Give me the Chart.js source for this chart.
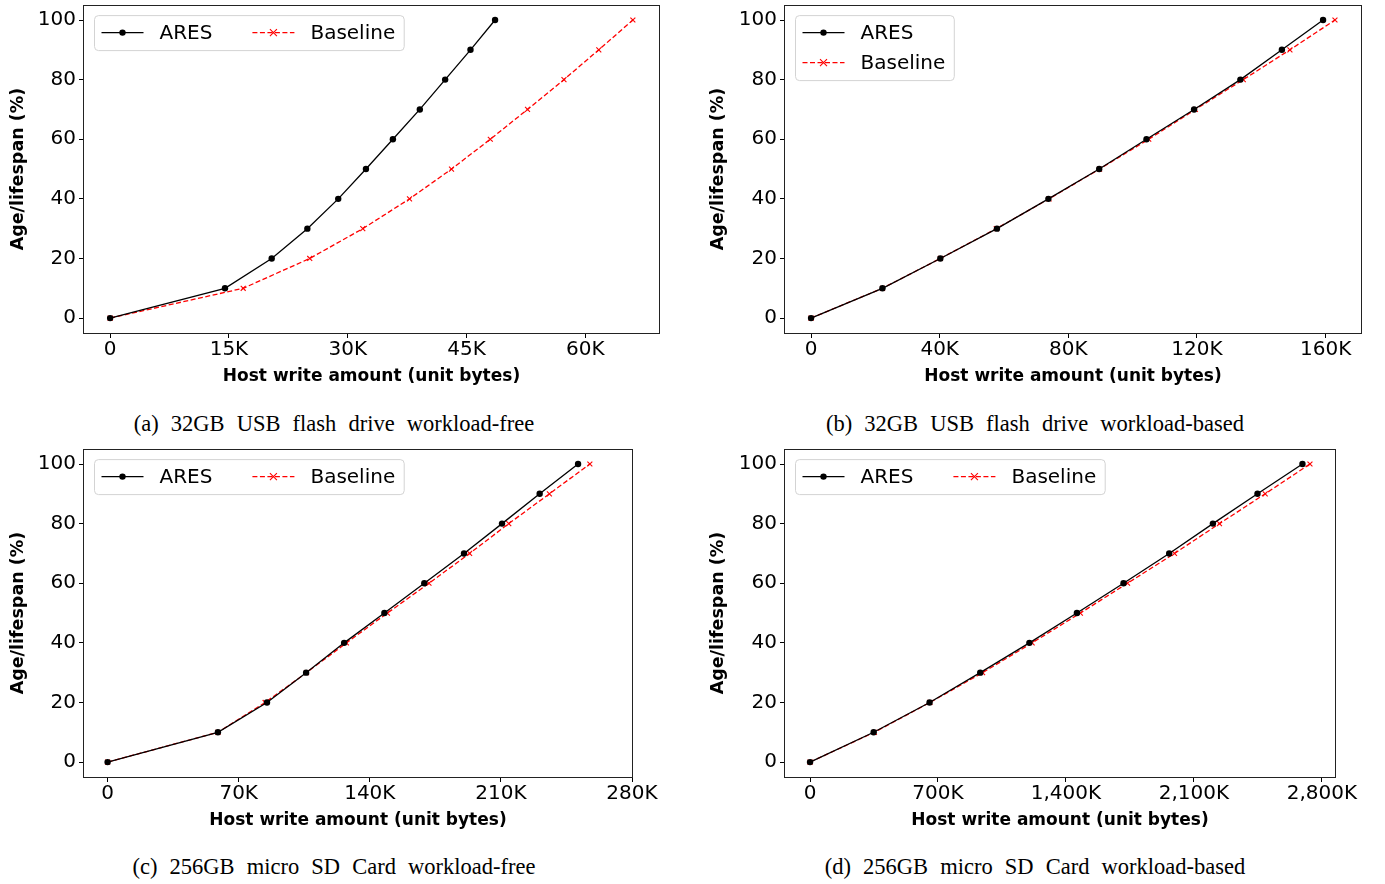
<!DOCTYPE html>
<html>
<head>
<meta charset="utf-8">
<script src="https://cdn.jsdelivr.net/npm/chart.js@4.4.1/dist/chart.umd.min.js"></script>
<style>
  html, body { margin: 0; padding: 0; background: #fff; }
  body { width: 1385px; height: 884px; position: relative; overflow: hidden; }
  canvas { position: absolute; }
  .cap {
    position: absolute; transform: translate(-50%, -50%); white-space: nowrap;
    font-family: 'Liberation Serif', 'Times New Roman', serif; font-size: 22.5px;
    word-spacing: 6.5px; color: #000;
  }
</style>
</head>
<body>
<canvas id="cA" width="692" height="400" style="left:0;top:0"></canvas>
<canvas id="cB" width="693" height="400" style="left:692px;top:0"></canvas>
<canvas id="cC" width="692" height="400" style="left:0;top:444px"></canvas>
<canvas id="cD" width="693" height="400" style="left:692px;top:444px"></canvas>
<div class="cap" style="left:334px;top:424px">(a) 32GB USB flash drive workload-free</div>
<div class="cap" style="left:1035px;top:424px">(b) 32GB USB flash drive workload-based</div>
<div class="cap" style="left:334px;top:867px">(c) 256GB micro SD Card workload-free</div>
<div class="cap" style="left:1035px;top:867px">(d) 256GB micro SD Card workload-based</div>

<script>
// y values shared by every panel (age / lifespan, %)
var ageLevels = [0, 10, 20, 30, 40, 50, 60, 70, 80, 90, 100];
var ageTicks = [0, 20, 40, 60, 80, 100];

// host write amount, in K units
var usbFreeAres = [0, 14.5, 20.4, 24.9, 28.8, 32.3, 35.7, 39.1, 42.3, 45.5, 48.6];
var usbFreeBase = [0, 16.8, 25.2, 31.9, 37.8, 43.1, 48.0, 52.7, 57.3, 61.7, 66.0];
var usbFreeTicks = [0, 15, 30, 45, 60];

var usbLoadAres = [0, 22.2, 40.2, 57.8, 73.8, 89.6, 104.3, 119.1, 133.5, 146.4, 159.2];
var usbLoadBase = [0, 22.2, 40.2, 57.6, 74.0, 89.7, 105.0, 119.5, 134.4, 148.9, 162.9];
var usbLoadTicks = [0, 40, 80, 120, 160];

var sdFreeAres = [0, 58.9, 85.1, 106.0, 126.3, 147.8, 169.1, 190.3, 210.6, 230.7, 251.2];
var sdFreeBase = [0, 58.9, 84.1, 106.2, 127.5, 149.4, 171.6, 193.3, 214.2, 235.9, 257.5];
var sdFreeTicks = [0, 70, 140, 210, 280];

var sdLoadAres = [0, 348, 654, 931, 1200, 1460, 1715, 1965, 2204, 2448, 2694];
var sdLoadBase = [0, 352, 656, 944, 1215, 1479, 1737, 1994, 2240, 2490, 2735];
var sdLoadTicks = [0, 700, 1400, 2100, 2800];

var FONT = 'DejaVu Sans';

function fmtK(v) {
  return v === 0 ? '0' : v.toLocaleString('en-US') + 'K';
}

function drawMarker(ctx, style, x, y, r) {
  ctx.beginPath();
  if (style === 'crossRot') {
    ctx.moveTo(x - r, y - r); ctx.lineTo(x + r, y + r);
    ctx.moveTo(x - r, y + r); ctx.lineTo(x + r, y - r);
    ctx.stroke();
  } else {
    ctx.arc(x, y, r, 0, Math.PI * 2);
    ctx.fill();
  }
}

// axes box (all four spines) + matplotlib-like legend inside the plot
var frameLegend = {
  id: 'frameLegend',
  afterDatasetsDraw: function (chart, args, opts) {
    var ctx = chart.ctx, a = chart.chartArea;
    ctx.save();
    ctx.strokeStyle = '#222';
    ctx.lineWidth = 1;
    ctx.strokeRect(Math.round(a.left) - 0.5, Math.round(a.top) + 0.5,
      Math.round(a.right - a.left) + 1, Math.round(a.bottom - a.top));

    var items = chart.data.datasets;
    ctx.font = '20px "' + FONT + '"';
    var handle = 42, pad = 7, textPad = 16, colGap = 40, rowH = 30;
    var widths = items.map(function (d) { return ctx.measureText(d.label).width; });
    var x0 = a.left + 10.5, y0 = a.top + 10.5, w, h;
    if (opts.columns === 1) {
      w = pad + handle + textPad + Math.max.apply(null, widths) + 9;
      h = items.length * rowH + 5;
    } else {
      w = pad;
      items.forEach(function (d, i) {
        w += handle + textPad + widths[i] + (i < items.length - 1 ? colGap : 0);
      });
      w += 9;
      h = 35;
    }
    ctx.beginPath();
    ctx.roundRect(x0, y0, w, h, 4);
    ctx.fillStyle = 'rgba(255,255,255,0.8)';
    ctx.fill();
    ctx.strokeStyle = '#d3d3d3';
    ctx.stroke();

    var cx = x0 + pad, cy = y0 + 17;
    items.forEach(function (d, i) {
      ctx.beginPath();
      ctx.setLineDash(d.borderDash || []);
      ctx.strokeStyle = d.borderColor;
      ctx.lineWidth = d.borderWidth;
      ctx.moveTo(cx, cy); ctx.lineTo(cx + handle, cy);
      ctx.stroke();
      ctx.setLineDash([]);
      ctx.fillStyle = d.pointBackgroundColor;
      ctx.strokeStyle = d.pointBorderColor;
      ctx.lineWidth = d.pointBorderWidth || 1;
      drawMarker(ctx, d.pointStyle, cx + handle / 2, cy, d.pointRadius);
      ctx.fillStyle = '#000';
      ctx.textBaseline = 'middle';
      ctx.textAlign = 'left';
      ctx.fillText(d.label, cx + handle + textPad, cy + 1);
      if (opts.columns === 1) cy += rowH;
      else cx += handle + textPad + widths[i] + colGap;
    });
    ctx.restore();
  }
};

function pts(xs) {
  return ageLevels.map(function (y, i) { return { x: xs[i], y: y }; });
}

function makePanel(id, ares, base, xMin, xMax, xTicks, box, legendCols) {
  var canvas = document.getElementById(id);
  var W = canvas.width, H = canvas.height;
  new Chart(canvas.getContext('2d'), {
    type: 'scatter',
    data: {
      datasets: [
        {
          label: 'ARES', data: pts(ares), showLine: true,
          borderColor: '#000', backgroundColor: '#000', borderWidth: 1.3,
          pointStyle: 'circle', pointRadius: 3.2, pointBackgroundColor: '#000',
          pointBorderColor: '#000', pointBorderWidth: 0
        },
        {
          label: 'Baseline', data: pts(base), showLine: true,
          borderColor: '#ff0000', backgroundColor: '#ff0000', borderWidth: 1.3,
          borderDash: [5, 2.5],
          pointStyle: 'crossRot', pointRadius: 3.5, pointBackgroundColor: '#ff0000',
          pointBorderColor: '#ff0000', pointBorderWidth: 1.1
        }
      ]
    },
    options: {
      responsive: false,
      animation: false,
      events: [],
      layout: { padding: { left: 0, top: box.top, right: W - box.right, bottom: 0 } },
      plugins: {
        legend: { display: false },
        tooltip: { enabled: false },
        frameLegend: { columns: legendCols }
      },
      scales: {
        x: {
          type: 'linear', min: xMin, max: xMax,
          afterBuildTicks: function (s) { s.ticks = xTicks.map(function (v) { return { value: v }; }); },
          afterFit: function (s) { s.height = H - box.bottom; s.paddingLeft = 0; s.paddingRight = 0; },
          ticks: { callback: fmtK, color: '#000', font: { family: FONT, size: 20 }, padding: 0, maxRotation: 0, autoSkip: false },
          grid: { drawOnChartArea: false, drawTicks: true, tickLength: 5, color: '#000' },
          border: { display: false },
          title: {
            display: true, text: 'Host write amount (unit bytes)', color: '#000',
            font: { family: FONT, size: 17, weight: 'bold' }, padding: { top: 0, bottom: 13 }
          }
        },
        y: {
          type: 'linear', min: -5, max: 105,
          afterBuildTicks: function (s) { s.ticks = ageTicks.map(function (v) { return { value: v }; }); },
          afterFit: function (s) { s.width = box.left; s.paddingTop = 0; s.paddingBottom = 0; },
          ticks: { color: '#000', font: { family: FONT, size: 20 }, padding: 3 },
          grid: { drawOnChartArea: false, drawTicks: true, tickLength: 5, color: '#000' },
          border: { display: false },
          title: {
            display: true, text: 'Age/lifespan (%)', color: '#000',
            font: { family: FONT, size: 17.5, weight: 'bold' }, padding: { top: box.titleX - 10.5, bottom: 0 }
          }
        }
      }
    },
    plugins: [frameLegend]
  });
}

makePanel('cA', usbFreeAres, usbFreeBase, -3.3, 69.3, usbFreeTicks,
  { left: 84, right: 659, top: 5, bottom: 333, titleX: 18 }, 2);
makePanel('cB', usbLoadAres, usbLoadBase, -8.1, 171.0, usbLoadTicks,
  { left: 93, right: 669, top: 5, bottom: 333, titleX: 26 }, 1);
makePanel('cC', sdFreeAres, sdFreeBase, -12.6, 280, sdFreeTicks,
  { left: 84, right: 632, top: 5, bottom: 333, titleX: 18 }, 2);
makePanel('cD', sdLoadAres, sdLoadBase, -137, 2872, sdLoadTicks,
  { left: 93, right: 643, top: 5, bottom: 333, titleX: 26 }, 2);
</script>
</body>
</html>
